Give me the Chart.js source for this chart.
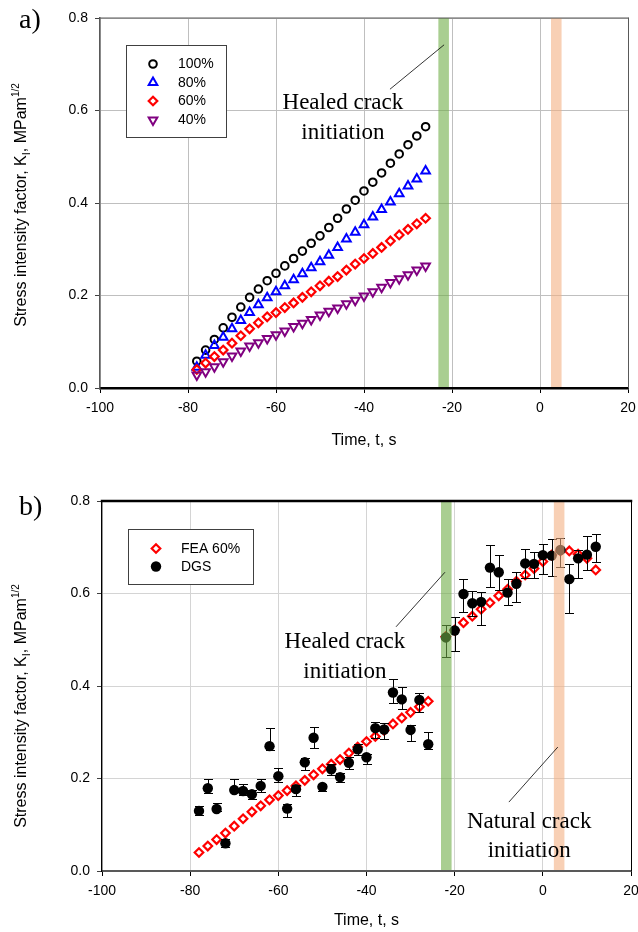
<!DOCTYPE html>
<html>
<head>
<meta charset="utf-8">
<script src="https://cdn.jsdelivr.net/npm/chart.js@4/dist/chart.umd.min.js"></script>
<style>
html, body { margin: 0; padding: 0; background: #fff; }
canvas { display: block; }
</style>
</head>
<body>
<canvas id="chartA" width="638" height="466"></canvas>
<canvas id="chartB" width="638" height="466"></canvas>
<script>
// time steps (s)
const timeA = [-78,-76,-74,-72,-70,-68,-66,-64,-62,-60,-58,-56,-54,-52,-50,-48,-46,-44,-42,-40,-38,-36,-34,-32,-30,-28,-26];
const timeB = [-22,-20,-18,-16,-14,-12,-10,-8,-6,-4,-2,0,2,4,6,8,10,12];

// a) FEA, K_I for the different load levels
const k100 = [0.058,0.082,0.105,0.130,0.153,0.175,0.196,0.214,0.232,0.248,0.264,0.280,0.296,0.313,0.329,0.347,0.367,0.387,0.406,0.426,0.445,0.465,0.486,0.506,0.526,0.545,0.565];
const k80  = [0.045,0.071,0.092,0.110,0.128,0.146,0.163,0.180,0.195,0.208,0.221,0.234,0.247,0.260,0.273,0.287,0.304,0.322,0.337,0.353,0.370,0.386,0.402,0.420,0.437,0.452,0.469];
const k60  = [0.040,0.054,0.068,0.082,0.097,0.113,0.128,0.141,0.154,0.163,0.174,0.184,0.196,0.208,0.221,0.231,0.241,0.255,0.268,0.280,0.291,0.304,0.318,0.331,0.343,0.355,0.367];
const k40  = [0.028,0.035,0.046,0.057,0.069,0.080,0.091,0.098,0.107,0.115,0.123,0.133,0.140,0.148,0.158,0.166,0.173,0.182,0.190,0.199,0.208,0.218,0.228,0.236,0.245,0.255,0.264];

// b) FEA 60% after the healed crack starts
const feaB = [0.507,0.521,0.537,0.551,0.566,0.580,0.595,0.609,0.626,0.640,0.654,0.669,0.683,0.692,0.692,0.685,0.676,0.651];

// b) DGS measurements with error bars (up / down)
const dgsA   = [0.130,0.179,0.134,0.060,0.175,0.173,0.166,0.184,0.270,0.205,0.135,0.177,0.235,0.288,0.182,0.220,0.203,0.234,0.263,0.246,0.309,0.306,0.386,0.371,0.305,0.370,0.274];
const errUpA = [0.010,0.019,0.014,0.010,0.025,0.015,0.009,0.016,0.040,0.017,0.010,0.008,0.010,0.024,0.007,0.011,0.008,0.012,0.012,0.008,0.014,0.013,0.029,0.026,0.011,0.014,0.026];
const errDnA = [0.008,0.011,0.004,0.009,0.005,0.009,0.011,0.013,0.008,0.012,0.018,0.015,0.017,0.021,0.009,0.012,0.010,0.013,0.012,0.015,0.022,0.021,0.023,0.021,0.023,0.026,0.011];
const dgsB   = [0.505,0.520,0.599,0.579,0.582,0.656,0.646,0.602,0.621,0.665,0.664,0.683,0.682,0.694,0.631,0.676,0.684,0.701];
const errUpB = [0.027,0.030,0.032,0.027,0.022,0.049,0.037,0.029,0.026,0.032,0.025,0.024,0.036,0.027,0.033,0.018,0.040,0.027];
const errDnB = [0.042,0.044,0.038,0.028,0.050,0.041,0.038,0.027,0.039,0.032,0.031,0.041,0.044,0.036,0.073,0.043,0.033,0.032];

// crack initiation bands (s)
const healedBand  = [-23.1, -20.7];
const naturalBand = [2.5, 4.9];

// axes
const xRange = [-100, 20], xStep = 20;
const yRange = [0, 0.8],   yStep = 0.2;

const SANS  = "'Liberation Sans', Arial, Helvetica, sans-serif";
const SERIF = "'Liberation Serif', 'Times New Roman', Times, serif";
Chart.defaults.font.family = SANS;
Chart.defaults.font.size = 14;
Chart.defaults.color = '#000';

function pts(xs, ys){
	return xs.map(function(x, i){ return {x: x, y: ys[i]}; });
}

var sty = {
	c100: {pointStyle:'circle',   rotation:0,   radius:3.8, borderWidth:2,   border:'#000000', fill:'rgba(0,0,0,0)'},
	c80:  {pointStyle:'triangle', rotation:0,   radius:5,   borderWidth:2,   border:'#0000ff', fill:'rgba(0,0,0,0)'},
	c60:  {pointStyle:'rectRot',  rotation:0,   radius:4.3, borderWidth:2.2, border:'#ff0000', fill:'rgba(0,0,0,0)'},
	c40:  {pointStyle:'triangle', rotation:180, radius:5,   borderWidth:2,   border:'#800080', fill:'rgba(0,0,0,0)'},
	dgs:  {pointStyle:'circle',   rotation:0,   radius:5.2, borderWidth:0,   border:'#000000', fill:'#000000'}
};

function series(label, data, s, order){
	return {
		label: label, data: data, showLine: false, order: order,
		pointStyle: s.pointStyle, pointRotation: s.rotation,
		pointRadius: s.radius, pointHoverRadius: s.radius,
		pointBorderWidth: s.borderWidth, pointBorderColor: s.border,
		pointBackgroundColor: s.fill, borderColor: s.border, backgroundColor: s.fill
	};
}

function axes(o){
	return {
		x: {
			type: 'linear', min: xRange[0], max: xRange[1],
			ticks: {stepSize: xStep, padding: 7, color: '#000', maxRotation: 0, autoSkip: false,
				callback: function(v){ return String(v); }},
			grid: {color: o.grid, lineWidth: 1, tickLength: 5, tickColor: '#000'},
			border: {color: o.xColor, width: o.xWidth},
			afterFit: function(s){ s.height = 40; s.paddingLeft = 0; s.paddingRight = 0; }
		},
		y: {
			type: 'linear', min: yRange[0], max: yRange[1],
			ticks: {stepSize: yStep, padding: 7, color: '#000',
				callback: function(v){ return Number(v).toFixed(1); }},
			grid: {color: o.grid, lineWidth: 1, tickLength: 5, tickColor: '#404040'},
			border: {color: o.yColor, width: o.yWidth},
			afterFit: function(s){ s.width = 44; s.paddingTop = 0; s.paddingBottom = 0; }
		}
	};
}

function drawMarker(ctx, s, x, y){
	ctx.save();
	ctx.fillStyle = s.fill;
	ctx.strokeStyle = s.border;
	ctx.lineWidth = s.borderWidth;
	if (Chart.helpers && Chart.helpers.drawPoint) {
		Chart.helpers.drawPoint(ctx, {pointStyle: s.pointStyle, rotation: s.rotation, radius: s.radius, borderWidth: s.borderWidth}, x, y);
	} else {
		ctx.beginPath(); ctx.arc(x, y, s.radius, 0, Math.PI*2); ctx.fill(); if (s.borderWidth) ctx.stroke();
	}
	ctx.restore();
}

function drawYTitle(ctx, cx, cy){
	var parts = [
		{t:'Stress intensity factor, K', s:16, dy:0},
		{t:'I', s:11, dy:4},
		{t:', MPam', s:16, dy:0},
		{t:'1/2', s:10, dy:-7}
	];
	ctx.save();
	ctx.translate(cx, cy);
	ctx.rotate(-Math.PI/2);
	ctx.textAlign = 'left';
	ctx.textBaseline = 'alphabetic';
	ctx.fillStyle = '#000';
	var total = 0;
	parts.forEach(function(p){ ctx.font = p.s + 'px ' + SANS; p.w = ctx.measureText(p.t).width; total += p.w; });
	var x = -total/2;
	parts.forEach(function(p){ ctx.font = p.s + 'px ' + SANS; ctx.fillText(p.t, x, 6 + p.dy); x += p.w; });
	ctx.restore();
}

// everything that is not a data mark: bands, frame, notes, legend, titles, error bars
function deco(cfg){
	return {
		id: 'deco',
		beforeDatasetDraw: function(chart, args){
			var e = cfg.errors;
			if (!e || args.index !== e.index) return;
			var ctx = chart.ctx, xs = chart.scales.x, ys = chart.scales.y;
			ctx.save();
			ctx.strokeStyle = '#000';
			ctx.lineWidth = 1;
			e.rows.forEach(function(r){
				var px = Math.round(xs.getPixelForValue(r.x)) + 0.5;
				var top = Math.round(ys.getPixelForValue(r.y + r.up)) + 0.5;
				var bot = Math.round(ys.getPixelForValue(r.y - r.dn)) + 0.5;
				ctx.beginPath();
				ctx.moveTo(px, top); ctx.lineTo(px, bot);
				ctx.moveTo(px - 4.5, top); ctx.lineTo(px + 4.5, top);
				ctx.moveTo(px - 4.5, bot); ctx.lineTo(px + 4.5, bot);
				ctx.stroke();
			});
			ctx.restore();
		},
		afterDatasetsDraw: function(chart){
			var ctx = chart.ctx, a = chart.chartArea, xs = chart.scales.x, ys = chart.scales.y;
			ctx.save();
			// bands
			cfg.bands.forEach(function(b){
				var x0 = xs.getPixelForValue(b.range[0]), x1 = xs.getPixelForValue(b.range[1]);
				ctx.fillStyle = b.color;
				ctx.fillRect(x0, a.top, x1 - x0, a.bottom - a.top - 1);
			});
			// top and right frame
			ctx.lineCap = 'square';
			ctx.strokeStyle = cfg.frame.top.color; ctx.lineWidth = cfg.frame.top.width;
			ctx.beginPath(); ctx.moveTo(a.left, a.top); ctx.lineTo(a.right, a.top); ctx.stroke();
			ctx.strokeStyle = cfg.frame.right.color; ctx.lineWidth = cfg.frame.right.width;
			ctx.beginPath(); ctx.moveTo(Math.round(a.right) + 0.5, a.top); ctx.lineTo(Math.round(a.right) + 0.5, a.bottom); ctx.stroke();
			// leader lines
			ctx.lineCap = 'butt';
			ctx.strokeStyle = '#000'; ctx.lineWidth = 0.8;
			cfg.leaders.forEach(function(l){
				ctx.beginPath();
				ctx.moveTo(xs.getPixelForValue(l[0]), ys.getPixelForValue(l[1]));
				ctx.lineTo(xs.getPixelForValue(l[2]), ys.getPixelForValue(l[3]));
				ctx.stroke();
			});
			// notes
			ctx.fillStyle = '#000';
			ctx.font = '23px ' + SERIF;
			ctx.textAlign = 'center';
			ctx.textBaseline = 'alphabetic';
			cfg.notes.forEach(function(n){
				ctx.fillText(n.text, xs.getPixelForValue(n.x), ys.getPixelForValue(n.y));
			});
			// legend
			var L = cfg.legend;
			ctx.fillStyle = '#fff';
			ctx.fillRect(L.box[0], L.box[1], L.box[2] - L.box[0], L.box[3] - L.box[1]);
			ctx.strokeStyle = '#404040'; ctx.lineWidth = 1;
			ctx.strokeRect(L.box[0], L.box[1], L.box[2] - L.box[0], L.box[3] - L.box[1]);
			L.items.forEach(function(it){
				drawMarker(ctx, it.style, L.markerX, it.y);
				ctx.fillStyle = '#000';
				ctx.font = '14px ' + SANS;
				ctx.textAlign = 'left';
				ctx.textBaseline = 'middle';
				ctx.fillText(it.label, L.textX, it.y + 0.5);
			});
			// panel letter and axis titles
			ctx.font = '28px ' + SERIF;
			ctx.textAlign = 'left';
			ctx.textBaseline = 'alphabetic';
			ctx.fillText(cfg.panel.text, cfg.panel.x, cfg.panel.y);
			ctx.font = '16px ' + SANS;
			ctx.textAlign = 'center';
			ctx.fillText('Time, t, s', (a.left + a.right) / 2, cfg.xTitleY);
			drawYTitle(ctx, 20, cfg.yTitleY);
			ctx.restore();
		}
	};
}

var bandColors = {healed: 'rgba(112,173,71,0.6)', natural: 'rgba(244,177,131,0.6)'};

// ---------- a) ----------
new Chart(document.getElementById('chartA'), {
	type: 'scatter',
	data: {datasets: [
		series('100%', pts(timeA, k100), sty.c100, 4),
		series('80%',  pts(timeA, k80),  sty.c80, 3),
		series('60%',  pts(timeA, k60),  sty.c60, 2),
		series('40%',  pts(timeA, k40),  sty.c40, 1)
	]},
	options: {
		responsive: false, animation: false, events: [], devicePixelRatio: 1,
		layout: {padding: {left: 56, right: 10, top: 18, bottom: 38}},
		plugins: {legend: {display: false}, tooltip: {enabled: false}},
		scales: axes({grid: '#bfbfbf', xColor: '#000', xWidth: 2.5, yColor: '#595959', yWidth: 1.5})
	},
	plugins: [deco({
		bands: [{range: healedBand, color: bandColors.healed}, {range: naturalBand, color: bandColors.natural}],
		frame: {top: {color: '#595959', width: 1}, right: {color: '#595959', width: 1}},
		leaders: [[-34.1, 0.646, -21.8, 0.742]],
		notes: [{text: 'Healed crack', x: -44.8, y: 0.603}, {text: 'initiation', x: -44.8, y: 0.538}],
		legend: {box: [126.5, 45.5, 226.5, 137.5], markerX: 153, textX: 178, items: [
			{style: sty.c100, label: '100%', y: 64},
			{style: sty.c80,  label: '80%',  y: 82.5},
			{style: sty.c60,  label: '60%',  y: 101},
			{style: sty.c40,  label: '40%',  y: 120}
		]},
		panel: {text: 'a)', x: 19, y: 28},
		xTitleY: 445,
		yTitleY: 205
	})]
});

// ---------- b) ----------
var dgsRows = pts(timeA, dgsA).map(function(p, i){ return {x: p.x, y: p.y, up: errUpA[i], dn: errDnA[i]}; })
	.concat(pts(timeB, dgsB).map(function(p, i){ return {x: p.x, y: p.y, up: errUpB[i], dn: errDnB[i]}; }));

new Chart(document.getElementById('chartB'), {
	type: 'scatter',
	data: {datasets: [
		series('FEA 60%', pts(timeA, k60).concat(pts(timeB, feaB)), sty.c60, 2),
		series('DGS', pts(timeA, dgsA).concat(pts(timeB, dgsB)), sty.dgs, 1)
	]},
	options: {
		responsive: false, animation: false, events: [], devicePixelRatio: 1,
		layout: {padding: {left: 58, right: 7, top: 35, bottom: 21}},
		plugins: {legend: {display: false}, tooltip: {enabled: false}},
		scales: axes({grid: '#d4d4d4', xColor: '#595959', xWidth: 2, yColor: '#000', yWidth: 1.3})
	},
	plugins: [deco({
		errors: {index: 1, rows: dgsRows},
		bands: [{range: healedBand, color: bandColors.healed}, {range: naturalBand, color: bandColors.natural}],
		frame: {top: {color: '#000', width: 2.5}, right: {color: '#000', width: 1}},
		leaders: [[-33.3, 0.528, -22.2, 0.646], [-7.7, 0.149, 3.4, 0.268]],
		notes: [
			{text: 'Healed crack', x: -44.9, y: 0.482}, {text: 'initiation', x: -44.9, y: 0.417},
			{text: 'Natural crack', x: -3.1, y: 0.093}, {text: 'initiation', x: -3.1, y: 0.030}
		],
		legend: {box: [128.5, 63.5, 253.5, 118.5], markerX: 156, textX: 181, items: [
			{style: sty.c60, label: 'FEA 60%', y: 82.5},
			{style: sty.dgs, label: 'DGS',     y: 100.5}
		]},
		panel: {text: 'b)', x: 19, y: 49},
		xTitleY: 459,
		yTitleY: 240
	})]
});
</script>
</body>
</html>
